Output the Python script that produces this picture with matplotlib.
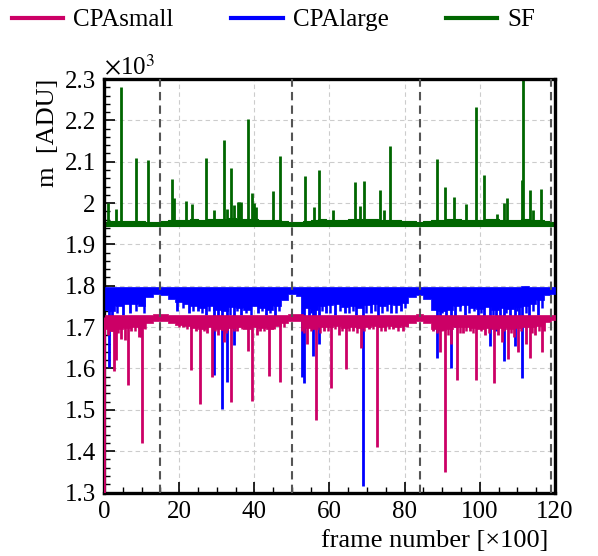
import matplotlib
matplotlib.use("Agg")
import matplotlib.pyplot as plt
import numpy as np
from matplotlib.ticker import MultipleLocator, FuncFormatter

plt.rcParams['font.family'] = ['Liberation Serif', 'DejaVu Serif']
plt.rcParams['mathtext.fontset'] = 'stix'

# values in units of 10^3 ADU, frame number in units of 100
# band envelopes (upper / lower edge of the noisy baseline)
x_env = [0.3, 2, 4, 6, 8, 10, 12, 14, 16, 18, 20, 22, 24, 26, 28, 30, 32, 34, 36, 38,
         40, 42, 44, 46, 48, 50, 52, 54, 56, 58, 60, 62, 64, 66, 68, 70, 72, 74, 76, 78,
         80, 82, 84, 86, 88, 90, 92, 94, 96, 98, 100, 102, 104, 106, 108, 110, 112, 114,
         116, 118, 120]

large_top = [1.796, 1.797, 1.797, 1.798, 1.797, 1.797, 1.798, 1.797, 1.797, 1.798, 1.797,
             1.797, 1.796, 1.797, 1.797, 1.798, 1.797, 1.797, 1.797, 1.797, 1.798, 1.797,
             1.796, 1.797, 1.797, 1.798, 1.797, 1.797, 1.797, 1.797, 1.798, 1.797, 1.797,
             1.797, 1.797, 1.797, 1.797, 1.797, 1.797, 1.797, 1.797, 1.797, 1.797, 1.797,
             1.798, 1.797, 1.797, 1.797, 1.797, 1.797, 1.797, 1.797, 1.797, 1.798, 1.797,
             1.797, 1.799, 1.797, 1.797, 1.797, 1.797]
large_bot = [1.742, 1.738, 1.750, 1.757, 1.755, 1.752, 1.772, 1.780, 1.778, 1.768, 1.760,
             1.756, 1.750, 1.745, 1.750, 1.742, 1.738, 1.748, 1.745, 1.742, 1.750, 1.746,
             1.742, 1.750, 1.766, 1.780, 1.776, 1.746, 1.742, 1.750, 1.754, 1.756, 1.748,
             1.750, 1.746, 1.754, 1.756, 1.750, 1.755, 1.753, 1.758, 1.772, 1.778, 1.768,
             1.742, 1.738, 1.742, 1.750, 1.754, 1.746, 1.744, 1.748, 1.742, 1.746, 1.744,
             1.748, 1.750, 1.755, 1.766, 1.778, 1.780]

small_top = [1.729, 1.729, 1.730, 1.729, 1.729, 1.730, 1.730, 1.731, 1.731, 1.730, 1.729,
             1.729, 1.729, 1.729, 1.730, 1.729, 1.729, 1.729, 1.729, 1.729, 1.729, 1.729,
             1.729, 1.729, 1.730, 1.731, 1.731, 1.729, 1.729, 1.729, 1.729, 1.729, 1.729,
             1.729, 1.729, 1.729, 1.729, 1.729, 1.729, 1.729, 1.729, 1.730, 1.731, 1.730,
             1.729, 1.729, 1.729, 1.729, 1.729, 1.729, 1.729, 1.729, 1.729, 1.729, 1.729,
             1.729, 1.729, 1.729, 1.730, 1.730, 1.730]
small_bot = [1.695, 1.690, 1.696, 1.698, 1.700, 1.698, 1.710, 1.715, 1.715, 1.710, 1.705,
             1.702, 1.698, 1.696, 1.700, 1.696, 1.694, 1.698, 1.700, 1.696, 1.700, 1.698,
             1.696, 1.702, 1.710, 1.715, 1.714, 1.698, 1.696, 1.700, 1.700, 1.702, 1.698,
             1.700, 1.698, 1.701, 1.702, 1.700, 1.702, 1.701, 1.703, 1.710, 1.715, 1.710,
             1.696, 1.693, 1.696, 1.700, 1.701, 1.698, 1.696, 1.698, 1.695, 1.698, 1.696,
             1.698, 1.700, 1.701, 1.703, 1.713, 1.716]

sf_top = [1.955, 1.956, 1.956, 1.957, 1.956, 1.956, 1.955, 1.954, 1.956, 1.958, 1.960,
          1.960, 1.961, 1.960, 1.961, 1.962, 1.962, 1.963, 1.962, 1.962, 1.961, 1.960,
          1.960, 1.959, 1.957, 1.955, 1.955, 1.957, 1.960, 1.961, 1.960, 1.959, 1.960,
          1.961, 1.961, 1.962, 1.961, 1.960, 1.959, 1.958, 1.957, 1.956, 1.955, 1.956,
          1.958, 1.960, 1.961, 1.961, 1.960, 1.960, 1.960, 1.961, 1.961, 1.960, 1.960,
          1.960, 1.961, 1.960, 1.958, 1.956, 1.955]
sf_bot = [1.945, 1.945, 1.944, 1.945, 1.945, 1.945, 1.945, 1.945, 1.945, 1.945, 1.944,
          1.944, 1.944, 1.944, 1.944, 1.944, 1.944, 1.944, 1.944, 1.944, 1.944, 1.944,
          1.944, 1.944, 1.945, 1.945, 1.945, 1.945, 1.944, 1.944, 1.944, 1.944, 1.944,
          1.944, 1.944, 1.944, 1.944, 1.944, 1.944, 1.944, 1.945, 1.945, 1.945, 1.945,
          1.944, 1.944, 1.944, 1.944, 1.944, 1.944, 1.944, 1.944, 1.944, 1.944, 1.944,
          1.944, 1.944, 1.944, 1.944, 1.945, 1.945]

# single frames far from the baseline
sf_x = [0.1, 1.1, 3.1, 4.6, 8.4, 11.8, 18.0, 18.6, 21.9, 23.3, 27.2, 29.3, 32.0, 32.7,
        33.9, 34.5, 35.6, 36.0, 36.5, 38.4, 39.3, 40.0, 40.4, 44.9, 46.8, 53.6, 55.8,
        57.2, 60.8, 66.7, 68.1, 69.3, 73.4, 74.5, 76.0, 88.6, 90.8, 93.2, 96.2, 98.9,
        101.2, 104.7, 106.5, 107.2, 111.1, 111.6, 113.3, 114.2, 116.3]
sf_v = [1.870, 2.000, 1.986, 2.280, 2.109, 2.105, 2.057, 2.012, 2.004, 1.998, 2.109,
        1.984, 2.153, 1.986, 2.085, 1.996, 2.003, 2.003, 2.003, 2.204, 2.024, 2.000,
        1.990, 2.030, 2.115, 2.066, 1.990, 2.081, 1.984, 2.050, 1.992, 2.053, 2.032,
        1.983, 2.137, 2.107, 2.040, 2.014, 1.998, 2.233, 2.067, 1.974, 2.000, 2.012,
        2.055, 2.300, 2.031, 1.982, 2.034]

large_x = [1.3, 2.0, 5.0, 7.0, 19.5, 22.5, 25.0, 27.0, 29.3, 30.3, 31.3, 32.7, 34.7,
           36.5, 41.0, 43.0, 45.5, 52.6, 53.1, 54.5, 55.7, 56.2, 57.3, 59.0, 61.5, 64.0,
           67.0, 68.9, 71.0, 73.0, 76.5, 79.0, 88.7, 89.5, 91.0, 92.3, 93.5, 96.0, 99.5,
           101.0, 102.8, 104.2, 105.5, 106.5, 108.0, 109.3, 110.5, 111.3, 113.0, 115.5]
large_v = [1.603, 1.700, 1.730, 1.735, 1.740, 1.735, 1.740, 1.730, 1.584, 1.720, 1.502,
           1.568, 1.657, 1.730, 1.735, 1.730, 1.725, 1.580, 1.564, 1.710, 1.630, 1.720,
           1.660, 1.735, 1.730, 1.735, 1.730, 1.316, 1.735, 1.720, 1.735, 1.740, 1.625,
           1.690, 1.700, 1.601, 1.700, 1.730, 1.725, 1.700, 1.655, 1.690, 1.720, 1.618,
           1.710, 1.655, 1.700, 1.577, 1.720, 1.730]
# shallow frames filling the lower edge of the CPAlarge band
large_comb_x = [3.5, 8.5, 10.5, 21.0, 23.8, 26.0, 28.0, 33.5, 35.5, 37.8, 39.0, 42.0,
                44.2, 46.5, 55.0, 58.0, 60.2, 62.8, 65.2, 66.2, 69.8, 72.0, 74.0, 75.2,
                77.8, 80.2, 90.0, 94.8, 97.2, 98.5, 100.2, 103.5, 107.0, 109.8, 112.2,
                114.2, 116.5]
large_comb_v = [1.735, 1.740, 1.735, 1.745, 1.740, 1.735, 1.740, 1.730, 1.740, 1.735,
                1.730, 1.740, 1.735, 1.740, 1.735, 1.740, 1.735, 1.740, 1.735, 1.740,
                1.735, 1.740, 1.735, 1.740, 1.735, 1.745, 1.735, 1.740, 1.735, 1.740,
                1.735, 1.730, 1.735, 1.740, 1.735, 1.740, 1.745]

small_x = [0.1, 1.0, 2.7, 3.1, 4.6, 5.5, 6.3, 7.2, 9.3, 9.9, 10.0, 21.0, 23.1, 24.4,
           25.6, 27.5, 28.7, 30.2, 31.8, 33.8, 35.5, 38.4, 39.3, 40.6, 41.5, 43.9, 45.2,
           46.9, 52.6, 54.0, 56.3, 58.5, 60.3, 62.5, 64.4, 66.2, 68.3, 70.4, 72.7, 74.7,
           77.0, 79.5, 87.6, 89.3, 90.8, 92.3, 93.9, 95.5, 97.3, 99.1, 101.5, 103.8,
           104.9, 105.8, 107.4, 109.0, 110.2, 112.2, 113.3, 114.8, 116.6, 117.0]
small_v = [1.300, 1.680, 1.593, 1.621, 1.671, 1.670, 1.560, 1.690, 1.675, 1.676, 1.419,
           1.700, 1.597, 1.690, 1.514, 1.685, 1.579, 1.680, 1.665, 1.520, 1.690, 1.643,
           1.522, 1.680, 1.690, 1.582, 1.695, 1.568, 1.690, 1.660, 1.476, 1.690, 1.552,
           1.680, 1.599, 1.690, 1.649, 1.695, 1.409, 1.690, 1.695, 1.690, 1.690, 1.640,
           1.350, 1.660, 1.571, 1.685, 1.690, 1.572, 1.680, 1.564, 1.680, 1.665, 1.622,
           1.675, 1.640, 1.660, 1.625, 1.680, 1.640, 1.690]
small_comb_x = [2.0, 3.8, 8.2, 11.0, 20.0, 22.2, 26.5, 29.5, 32.5, 34.5, 36.8, 42.5,
                44.6, 47.8, 53.3, 55.2, 57.5, 59.5, 61.5, 63.3, 65.3, 67.2, 69.3, 71.5,
                73.8, 75.8, 78.2, 80.5, 88.5, 90.0, 91.5, 94.8, 96.4, 98.2, 100.3, 102.5,
                106.5, 108.2, 111.0, 113.8, 115.8]
small_comb_v = [1.690, 1.685, 1.690, 1.695, 1.700, 1.695, 1.690, 1.690, 1.685, 1.690,
                1.695, 1.690, 1.695, 1.700, 1.685, 1.690, 1.685, 1.690, 1.695, 1.690,
                1.690, 1.685, 1.690, 1.695, 1.690, 1.695, 1.690, 1.700, 1.685, 1.690,
                1.680, 1.685, 1.690, 1.685, 1.690, 1.685, 1.690, 1.685, 1.690, 1.685,
                1.690]

boundaries = [15, 50, 84, 119]

c_small = '#cc0066'
c_large = '#0000ff'
c_sf = '#006600'

fig = plt.figure(figsize=(5.98, 5.56), dpi=100)
ax = fig.add_axes([0.174, 0.1142, 0.754, 0.7437])

# SF
ax.fill_between(x_env, sf_bot, sf_top, step='mid', color=c_sf, lw=0.8, zorder=2)
ax.vlines(sf_x, 1.948, sf_v, color=c_sf, lw=2.0, zorder=2)
# CPAlarge
ax.fill_between(x_env, large_bot, large_top, step='mid', color=c_large, lw=0.5, zorder=3)
ax.vlines(large_x, 1.79, large_v, color=c_large, lw=2.0, zorder=3)
ax.vlines(large_comb_x, 1.79, large_comb_v, color=c_large, lw=1.8, zorder=3)
# CPAsmall
ax.fill_between(x_env, small_bot, small_top, step='mid', color=c_small, lw=0.5, zorder=4)
ax.vlines(small_x, 1.725, small_v, color=c_small, lw=2.0, zorder=4)
ax.vlines(small_comb_x, 1.725, small_comb_v, color=c_small, lw=1.8, zorder=4)

for xb in boundaries:
    ax.axvline(xb, color='#555555', lw=1.5, ls=(0, (4, 2.5)), zorder=5)

ax.set_xlim(0, 120)
ax.set_ylim(1.3, 2.3)
ax.xaxis.set_major_locator(MultipleLocator(20))
ax.xaxis.set_minor_locator(MultipleLocator(5))
ax.yaxis.set_major_locator(MultipleLocator(0.1))
ax.yaxis.set_minor_locator(MultipleLocator(0.02))
ax.yaxis.set_major_formatter(FuncFormatter(lambda v, p: '%g' % round(v, 2)))
ax.grid(True, which='major', color='#cccccc', ls=(0, (4, 3)), lw=0.8, zorder=0)
ax.set_axisbelow(True)

ax.tick_params(which='both', direction='in', labelsize=18, top=False, right=False)
ax.tick_params(which='major', length=8, width=1.2, pad=6)
ax.tick_params(which='minor', length=4.5, width=1.0)
for s in ax.spines.values():
    s.set_linewidth(2.4)

ax.set_xlabel('frame number [×100]', fontsize=19, ha='right', x=0.985, labelpad=5)
ax.set_ylabel('m  [ADU]', fontsize=19, ha='right', y=1.0, labelpad=4)
ax.text(0.0, 0.998, r'$\times$10$^3$', transform=ax.transAxes, fontsize=18, va='bottom', ha='left')

handles = [plt.Line2D([], [], color=c, lw=3) for c in (c_small, c_large, c_sf)]
fig.legend(handles, ['CPAsmall', 'CPAlarge', 'SF'], loc='upper left', ncol=3,
           bbox_to_anchor=(0.012, 0.993), frameon=False, fontsize=18, borderaxespad=0,
           handlelength=2.05, handletextpad=0.4, columnspacing=2.3, borderpad=0.2)

fig.savefig('out.png', dpi=100)
